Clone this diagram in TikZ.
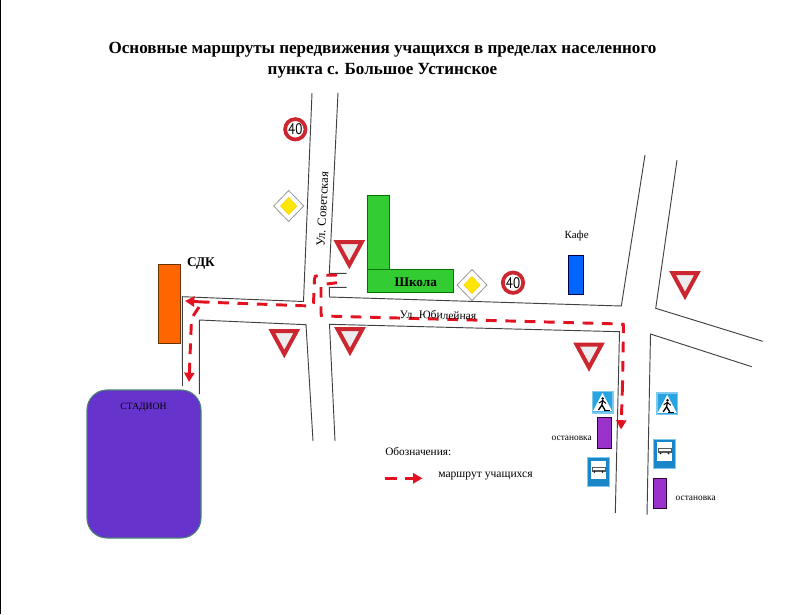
\documentclass[tikz,border=0pt]{standalone}
\usepackage{fontspec}
\setmainfont{Liberation Serif}
\newfontfamily\signfont{PT Sans}
\usepackage{tikz}
\usetikzlibrary{arrows.meta}

\definecolor{routered}{RGB}{226,18,32}
\definecolor{signred}{RGB}{204,38,48}
\definecolor{signblue}{RGB}{26,134,200}
\definecolor{crossblue}{RGB}{40,165,225}

\tikzset{
  every pic/.style={yscale=-1},
  road/.style={draw=black!75,line width=0.7pt},
  route/.style={draw=routered,line width=2.2pt,dash pattern=on 8pt off 6.5pt},
  routeend/.style={draw=routered,line width=2.2pt,dash pattern=on 8pt off 6.5pt,-{Triangle[length=7pt,width=7.5pt]}},
  building/.style={line width=0.6pt},
  txt/.style={inner sep=0pt,font=\fontsize{8.2pt}{9pt}\selectfont},
  yieldsign/.pic={
    \fill[black!7] (-14,3) -- (14,3) -- (0,27) -- cycle;
    \draw[signred,line width=3pt,miter limit=10] (-12.5,2) -- (12.5,2) -- (0,25) -- cycle;
  },
  speedsign/.pic={
    \draw[signred,fill=white,line width=2.8pt] (0,0) circle (10.2);
    \node[inner sep=0pt,xscale=0.85,font=\signfont\fontsize{11.5pt}{12pt}\selectfont] (-num) at (0,0) {40};
  },
  mainsign/.pic={
    \draw[black!40,fill=white,line width=0.6pt] (-15,0) -- (0,-15.5) -- (15,0) -- (0,15.5) -- cycle;
    \draw[yellow!70!orange,fill=yellow!90!orange,line width=0.5pt] (-8,0) -- (0,-8.5) -- (8,0) -- (0,8.5) -- cycle;
  },
  crosssign/.pic={
    \fill[crossblue!60] (-11,-11.5) rectangle (11,11.5);
    \fill[crossblue] (-9.5,-10) rectangle (9.5,10);
    \fill[white] (0,-9) -- (9.5,9) -- (-9.5,9) -- cycle;
    \fill[black] (0.3,-3.5) circle (1.4);
    \draw[black,line width=1pt] (0.2,-2) -- (-0.6,3) -- (2.5,8);
    \draw[black,line width=1pt] (-0.6,3) -- (-4,8);
    \draw[black,line width=0.7pt] (-3.5,1) -- (0.2,-1.5) -- (3.5,1.5);
    \draw[black,line width=0.6pt] (1,8.3) -- (7,8.3);
  },
  bussign/.pic={
    \fill[crossblue!60] (-11.2,-15) rectangle (11.2,15);
    \fill[signblue] (-10.2,-14) rectangle (10.2,14);
    \fill[white] (-7.8,-11.5) rectangle (7.8,7);
    \fill[black!65] (-7,-5.5) rectangle (7,-0.5);
    \fill[white] (-6,-4.6) rectangle (6,-2.8);
    \fill[black] (-4,-0.3) circle (0.9) (4,-0.3) circle (0.9);
  },
}

\begin{document}
\begin{tikzpicture}[x=0.75pt,y=0.75pt,yscale=-1,xscale=1]
    \useasboundingbox (0,0) rectangle (798,614);

    %left edge
    \draw[black,line width=1.2pt] (0.6,0) -- (0.6,614);

    %Roads
    \draw[road] (312,93) -- (303.5,301.5) -- (182.3,296.7) -- (182.5,386);
    \draw[road] (338,92.7) -- (329.3,273.3) -- (346.7,273.3);
    \draw[road] (346.7,287.3) -- (329.3,287.3) -- (329.5,297) -- (621.3,306) -- (645,155);
    \draw[road] (199.3,394) -- (199.3,320) -- (306,324.7) -- (313,441);
    \draw[road] (335,441) -- (329.5,324.3) -- (619.5,331.7) -- (615.3,513);
    \draw[road] (677,160) -- (655.7,308.3) -- (762.7,341.3);
    \draw[road] (751.7,366.7) -- (650.5,334) -- (647,515);

    %Buildings
    \draw[building,draw=black!60!orange,fill={rgb,255:red,255;green,102;blue,0}] (158.3,264) rectangle (180,343.3);
    \draw[line width=0.8pt,draw={rgb,255:red,70;green,130;blue,120},fill={rgb,255:red,102;green,51;blue,204},rounded corners=15pt] (87,390) rectangle (201,538);
    \draw[building,draw=black!55!green,fill={rgb,255:red,51;green,204;blue,51}] (367.3,195) rectangle (389,269.3);
    \draw[building,draw=black!55!green,fill={rgb,255:red,51;green,204;blue,51}] (367.3,269.3) rectangle (453.3,292.3);
    \draw[building,draw=black!70!blue,fill={rgb,255:red,0;green,102;blue,255}] (568,255.3) rectangle (583.7,294.3);
    \draw[building,draw=black!60!violet,fill={rgb,255:red,153;green,51;blue,204}] (597.7,417.3) rectangle (611,448);
    \draw[building,draw=black!60!violet,fill={rgb,255:red,153;green,51;blue,204}] (653.3,478) rectangle (666.7,508.3);

    %Signs
    \pic at (349.3,240) {yieldsign};
    \pic at (284.3,329) {yieldsign};
    \pic at (350,327) {yieldsign};
    \pic at (685,271) {yieldsign};
    \pic at (589,342.5) {yieldsign};
    \pic (speeda) at (295.3,129.3) {speedsign};
    \pic (speedb) at (513,282.7) {speedsign};
    \pic at (288.7,206) {mainsign};
    \pic at (472,285) {mainsign};
    \pic at (602.5,402) {crosssign};
    \pic at (667.2,403.8) {crosssign};
    \pic at (598.5,472.3) {bussign};
    \pic at (664.5,453.7) {bussign};

    %Route
    \draw[route] (337,275) -- (318,275.5) .. controls (315,276) .. (314.5,279) -- (313.5,303) .. controls (313,306) .. (310,306) -- (203,302);
    \draw[routeend] (203,302) -- (185,301);
    \draw[routeend] (199,307) -- (191.5,318.5) -- (189,382);
    \draw[route] (337,282.7) -- (326.7,284);
    \draw[route] (321,287) -- (321,313) .. controls (321,316) .. (324,316) -- (621,324) .. controls (623.5,324) .. (623.5,327) -- (622.5,385);
    \draw[routeend] (622.5,385) -- (621,429.5);

    %Legend route
    \coordinate (legstart) at (385,478.3);
    \coordinate (legmid) at (396.5,478.3);
    \coordinate (legarrow) at (405,478.3);
    \coordinate (legend) at (422.5,478.3);
    \draw[routered,line width=2.2pt] (legstart) -- (legmid);
    \draw[routered,line width=2.2pt,-{Triangle[length=7pt,width=7.5pt]}] (legarrow) -- (legend);

    %Text
    \node (title) [align=center,inner sep=0pt,font=\bfseries\fontsize{12.8pt}{15.8pt}\selectfont] at (382.5,60.5) {Основные маршруты передвижения учащихся в пределах населенного\\пункта с. Большое Устинское};
    \node (sdk) [inner sep=0pt,font=\bfseries\fontsize{10pt}{11pt}\selectfont] at (201,263.5) {СДК};
    \node (school) [inner sep=0pt,font=\bfseries\fontsize{9.9pt}{11pt}\selectfont] at (415.7,282.5) {Школа};
    \node (cafe) [txt] at (576.7,235.5) {Кафе};
    \node (stadium) [txt,font=\fontsize{7.2pt}{8pt}\selectfont] at (143.5,407) {СТАДИОН};
    \node (sovetskaya) [txt,font=\fontsize{9.3pt}{10pt}\selectfont,rotate=87] at (322.5,209.3) {Ул. Советская};
    \node (yubileynaya) [txt,font=\fontsize{8.6pt}{9pt}\selectfont,rotate=-1.5] at (438,315) {Ул. Юбилейная};
    \node (stopa) [txt,font=\fontsize{7pt}{8pt}\selectfont] at (571.7,438.5) {остановка};
    \node (stopb) [txt,font=\fontsize{7pt}{8pt}\selectfont] at (695.7,498.5) {остановка};
    \node (legendtitle) [txt,anchor=west,font=\fontsize{8.5pt}{9pt}\selectfont] at (385,451.5) {Обозначения:};
    \node (legendtext) [txt,anchor=west,font=\fontsize{8.7pt}{9pt}\selectfont] at (438,476.5) {маршрут учащихся};

\end{tikzpicture}
\end{document}
